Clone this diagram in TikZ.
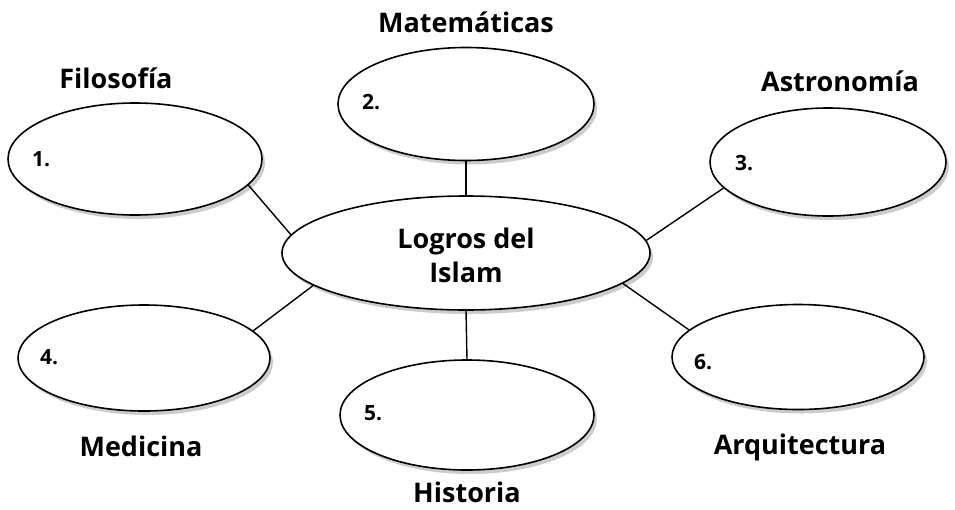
\documentclass[tikz,border=0pt]{standalone}
\usepackage{fontspec}
\setmainfont{Open Sans}
\usetikzlibrary{shapes.geometric,shadows}

\begin{document}
\begin{tikzpicture}[
x=1pt, y=-1pt,
bubble/.style={ellipse, draw=black, line width=1.6pt, fill=white,
  drop shadow={shadow xshift=3pt, shadow yshift=-4pt, fill=black!20, opacity=1}},
topic/.style={font=\fontsize{27}{34}\selectfont\bfseries},
num/.style={font=\fontsize{21}{24}\selectfont\bfseries},
link/.style={line width=1.4pt}
]
\useasboundingbox (0,0) rectangle (955,509);

% centre
\node[bubble, minimum width=368pt, minimum height=114pt] (logros) at (466,253) {};
\node[topic, align=center] at (466,255) {Logros del\\Islam};

% outer bubbles
\node[bubble, minimum width=254pt, minimum height=112pt] (fil) at (135,159) {};
\node[bubble, minimum width=256pt, minimum height=113pt] (mat) at (466,104) {};
\node[bubble, minimum width=236pt, minimum height=108pt] (ast) at (828,162) {};
\node[bubble, minimum width=252pt, minimum height=106pt] (med) at (144,358) {};
\node[bubble, minimum width=254pt, minimum height=110pt] (his) at (467,415) {};
\node[bubble, minimum width=252pt, minimum height=105pt] (arq) at (798,357) {};

% numbers
\node[num] at (41,159) {1.};
\node[num] at (371,102) {2.};
\node[num] at (744,163) {3.};
\node[num] at (49,357) {4.};
\node[num] at (373,413) {5.};
\node[num] at (703,362) {6.};

% topic labels
\node[topic] at (116,78) {Filosofía};
\node[topic] at (466,22) {Matemáticas};
\node[topic] at (840,81) {Astronomía};
\node[topic] at (141,446) {Medicina};
\node[topic] at (467,492) {Historia};
\node[topic] at (800,447) {Arquitectura};

% links
\draw[link] (fil.-13) -- (logros.174);
\draw[link] (mat.south) -- (logros.north);
\draw[link] (ast.-166) -- (logros.4.5);
\draw[link] (med.14) -- (logros.-168);
\draw[link] (his.north) -- (logros.south);
\draw[link] (arq.166) -- (logros.-11);

\end{tikzpicture}
\end{document}
